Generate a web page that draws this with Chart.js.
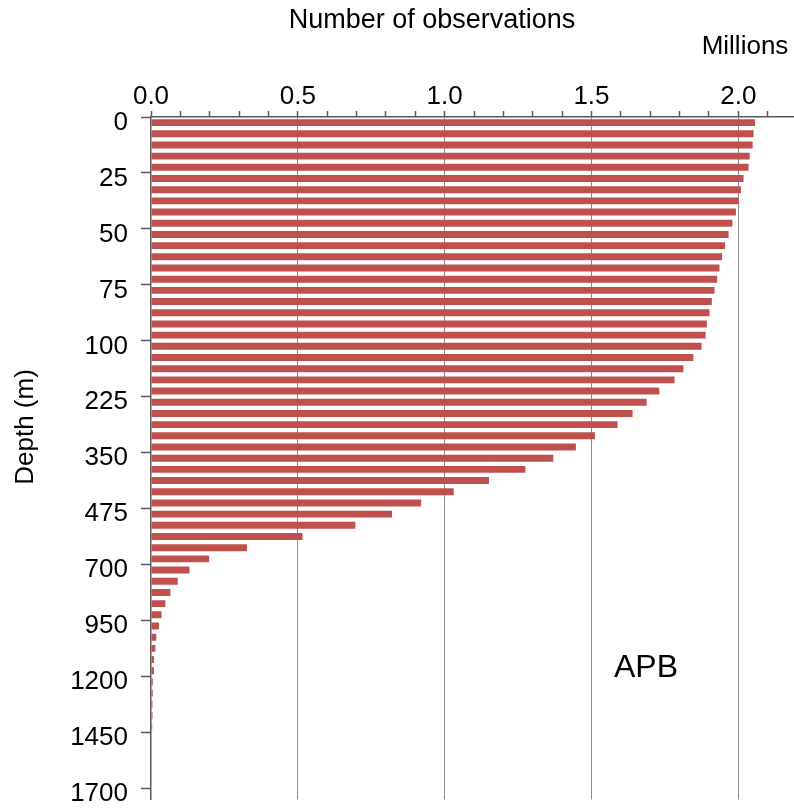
<!DOCTYPE html>
<html>
<head>
<meta charset="utf-8">
<script src="https://cdn.jsdelivr.net/npm/chart.js@4/dist/chart.umd.min.js"></script>
<style>
  html, body { margin: 0; padding: 0; overflow: hidden; background: #fff; }
  #wrap { width: 800px; height: 828px; }
</style>
</head>
<body>
<div id="wrap"><canvas id="chart" width="800" height="828"></canvas></div>
<script>
// depth levels (m), one bar each
const depths = [
  0, 5, 10, 15, 20, 25, 30, 35, 40, 45, 50, 55, 60, 65, 70, 75, 80, 85, 90, 95, 100,
  125, 150, 175, 200, 225, 250, 275, 300, 325, 350, 375, 400, 425, 450, 475,
  500, 550, 600, 650, 700, 750, 800, 850, 900, 950, 1000, 1050, 1100, 1150, 1200,
  1250, 1300, 1350, 1400, 1450, 1500, 1550, 1600, 1650, 1700
];

// number of observations, millions
const observations = [
  2.057, 2.052, 2.049, 2.039, 2.035, 2.018, 2.009, 2.002, 1.992, 1.980, 1.967,
  1.955, 1.945, 1.936, 1.928, 1.919, 1.910, 1.902, 1.893, 1.889, 1.875,
  1.847, 1.813, 1.783, 1.731, 1.688, 1.640, 1.589, 1.512, 1.447, 1.370,
  1.275, 1.151, 1.031, 0.920, 0.821,
  0.696, 0.516, 0.327, 0.198, 0.131, 0.091, 0.066, 0.049, 0.036, 0.027,
  0.018, 0.015, 0.010, 0.010, 0.006, 0.006, 0.005, 0.005, 0.004, 0,
  0, 0, 0, 0, 0
];

const xMax = 2.2;
const xStep = 0.1;
const labelEvery = 5;

const axisColor = '#595959';
const FONT = 'Arial, "Liberation Sans", sans-serif';

// loose text: axis titles, unit and panel name
const textPlugin = {
  id: 'looseText',
  afterDraw(chart) {
    const ctx = chart.ctx;
    ctx.save();
    ctx.fillStyle = '#000';
    ctx.textAlign = 'center';
    ctx.textBaseline = 'middle';
    ctx.font = '27px ' + FONT;
    ctx.fillText('Number of observations', 432, 21);
    ctx.font = '26px ' + FONT;
    ctx.fillText('Millions', 745, 47);
    ctx.save();
    ctx.translate(26, 427);
    ctx.rotate(-Math.PI / 2);
    ctx.fillText('Depth (m)', 0, 0);
    ctx.restore();
    ctx.font = '32px ' + FONT;
    ctx.fillText('APB', 646, 668);
    ctx.restore();
  }
};

new Chart(document.getElementById('chart'), {
  type: 'bar',
  data: {
    labels: depths,
    datasets: [{
      data: observations,
      backgroundColor: '#c0504d',
      borderWidth: 0,
      barPercentage: 0.62,
      categoryPercentage: 1
    }]
  },
  options: {
    indexAxis: 'y',
    responsive: false,
    animation: false,
    layout: { padding: { left: 0, top: 0, right: 3, bottom: 11 } },
    plugins: {
      legend: { display: false },
      tooltip: { enabled: false }
    },
    scales: {
      x: {
        position: 'top',
        min: 0,
        max: xMax,
        z: 1,
        afterFit(scale) { scale.height = 117; },
        border: { color: axisColor, width: 1.5 },
        grid: {
          color(c) {
            const v = c.tick ? c.tick.value : 0;
            const major = Math.abs(v * 2 - Math.round(v * 2)) < 1e-6;
            return (major && v > 0) ? '#8c8c8c' : 'rgba(0,0,0,0)';
          },
          lineWidth: 1,
          tickColor: axisColor,
          tickWidth: 1.5,
          tickLength: 6
        },
        ticks: {
          stepSize: xStep,
          autoSkip: false,
          maxRotation: 0,
          padding: 0,
          color: '#000',
          font: { family: FONT, size: 26, lineHeight: 1.1 },
          callback(v) {
            return Math.abs(v * 2 - Math.round(v * 2)) < 1e-6 ? Number(v).toFixed(1) : '';
          }
        }
      },
      y: {
        type: 'category',
        offset: true,
        afterFit(scale) { scale.width = 151; },
        border: { color: axisColor, width: 1.5 },
        grid: {
          offset: true,
          drawOnChartArea: false,
          tickLength: 10,
          tickWidth: 1.5,
          tickColor(c) {
            return c.index % labelEvery === 0 ? axisColor : 'rgba(0,0,0,0)';
          }
        },
        ticks: {
          autoSkip: false,
          padding: 13,
          color: '#000',
          font: { family: FONT, size: 26 },
          callback(v, i) {
            return i % labelEvery === 0 ? String(depths[i]) : '';
          }
        }
      }
    }
  },
  plugins: [textPlugin]
});
</script>
</body>
</html>
